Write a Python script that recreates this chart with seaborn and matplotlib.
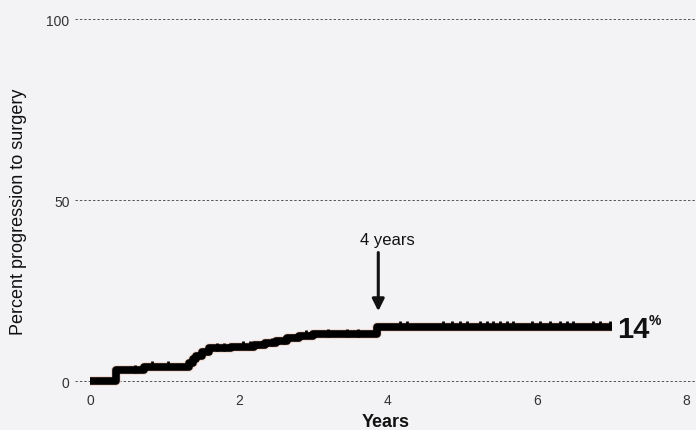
import matplotlib
matplotlib.use("Agg")
import matplotlib.pyplot as plt
import matplotlib.patheffects as pe
import seaborn as sns
import pandas as pd
import numpy as np

# Step curve (years, percent progressed to surgery)
step_years = [0.0, 0.35, 0.72, 1.33, 1.38, 1.43, 1.50, 1.60, 1.90, 2.20, 2.35, 2.50, 2.65, 2.80, 3.00, 3.85, 7.00]
step_pct   = [0.0, 3.0,  4.0,  5.0,  6.0,  7.0,  8.0,  9.0,  9.5,  10.0, 10.5, 11.0, 12.0, 12.5, 13.0, 15.0, 15.0]

# Censoring marks (years)
censor_years = [0.60, 0.83, 1.05, 1.70, 1.80, 2.05, 2.15, 2.45, 2.60, 2.90, 3.20, 3.45, 3.60,
                4.16, 4.25, 4.74, 4.86, 4.97, 5.06, 5.23, 5.33, 5.41, 5.50, 5.60, 5.68,
                5.93, 6.04, 6.17, 6.31, 6.40, 6.48, 6.75, 6.85, 6.98]

y_ticks = [0, 50, 100]
x_ticks = [0, 2, 4, 6, 8]
end_label = "14"

sns.set_style("white")
plt.rcParams['font.family'] = ['Liberation Sans', 'DejaVu Sans']

fig = plt.figure(figsize=(6.96, 4.31), dpi=100)
fig.patch.set_facecolor('#f3f3f5')
ax = fig.add_axes([75/696, 1 - 390/431, 1 - 75/696, 380/431])
ax.set_facecolor('#f3f3f5')

df = pd.DataFrame({"Years": step_years, "pct": step_pct})
halo = [pe.withStroke(linewidth=7, foreground='#f1d9cf')]
sns.lineplot(data=df, x="Years", y="pct", drawstyle='steps-post', color='black',
             linewidth=5.5, ax=ax, solid_capstyle='butt', path_effects=halo, zorder=3)

cy = [step_pct[np.searchsorted(step_years, t, side='right') - 1] for t in censor_years]
cdf = pd.DataFrame({"Years": censor_years, "pct": [v + 0.4 for v in cy]})
sns.scatterplot(data=cdf, x="Years", y="pct", marker='|', s=35, linewidth=2.0,
                color='black', ax=ax, zorder=4)

ax.set_xlim(-0.2, 8.134)
ax.set_ylim(-2.2, 102.8)
ax.set_xticks(x_ticks)
ax.set_yticks(y_ticks)
ax.tick_params(axis='both', length=0, labelsize=10, colors='#333333')
ax.tick_params(axis='x', pad=3)
ax.tick_params(axis='y', pad=4)
for y in y_ticks:
    ax.axhline(y, color='#555555', linewidth=0.7, linestyle=(0, (2.5, 2)), zorder=1)
for s in ax.spines.values():
    s.set_visible(False)

ax.set_xlabel("Years", fontsize=13, fontweight='bold', labelpad=4, color='#111111')
ax.set_ylabel("Percent progression to surgery", fontsize=13, color='#111111')
ax.yaxis.set_label_coords(-0.077, 0.468)

ax.annotate("", xy=(3.87, 19.3), xytext=(3.87, 35.5),
            arrowprops=dict(arrowstyle='-|>', color='#111111', lw=2.2, mutation_scale=18,
                            shrinkA=0, shrinkB=0), zorder=5)
ax.text(3.99, 39.2, "4 years", ha='center', va='center', fontsize=12, color='#111111')

ax.text(7.08, 14.4, end_label, ha='left', va='center', fontsize=21, fontweight='bold', color='#111111')
ax.text(7.50, 16.8, "%", ha='left', va='center', fontsize=10, fontweight='bold', color='#111111')

fig.savefig("out.png", dpi=100, facecolor=fig.get_facecolor())
